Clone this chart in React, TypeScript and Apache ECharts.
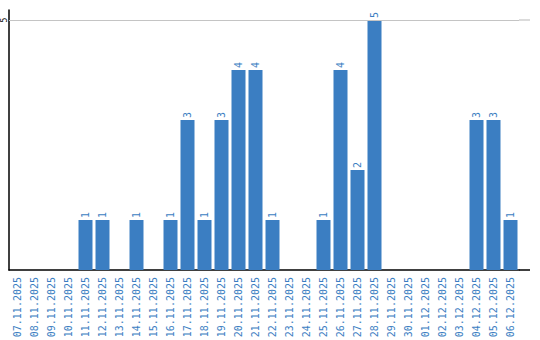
import React, { useEffect, useRef } from "react";
import * as echarts from "echarts";

const categories = [
  "07.11.2025", "08.11.2025", "09.11.2025", "10.11.2025", "11.11.2025",
  "12.11.2025", "13.11.2025", "14.11.2025", "15.11.2025", "16.11.2025",
  "17.11.2025", "18.11.2025", "19.11.2025", "20.11.2025", "21.11.2025",
  "22.11.2025", "23.11.2025", "24.11.2025", "25.11.2025", "26.11.2025",
  "27.11.2025", "28.11.2025", "29.11.2025", "30.11.2025", "01.12.2025",
  "02.12.2025", "03.12.2025", "04.12.2025", "05.12.2025", "06.12.2025",
];
const values = [0, 0, 0, 0, 1, 1, 0, 1, 0, 1, 3, 1, 3, 4, 4, 1, 0, 0, 1, 4, 2, 5, 0, 0, 0, 0, 0, 3, 3, 1];
const yTickLabels = [5];

const FONT = "DejaVu Sans Mono";
const BLUE = "#3b7ec2";

export default function App() {
  const ref = useRef<HTMLDivElement>(null);
  useEffect(() => {
    if (!ref.current) return;
    const chart = echarts.init(ref.current, null, { renderer: "svg" });
    chart.setOption({
      animation: false,
      grid: { left: 9, right: 21, top: 10, bottom: 70, containLabel: false, outerBoundsMode: "none" },
      xAxis: {
        type: "category",
        data: categories,
        axisLine: { show: true, lineStyle: { color: "#000", width: 1.5 } },
        axisTick: { show: false },
        axisLabel: {
          rotate: 90,
          interval: 0,
          margin: 7,
          color: BLUE,
          fontFamily: FONT,
          fontSize: 10,
        },
      },
      yAxis: {
        type: "value",
        min: 0,
        max: 5.2,
        interval: 5,
        axisLine: { show: true, lineStyle: { color: "#000", width: 1.5 } },
        axisTick: { show: false },
        splitLine: { show: false },
        axisLabel: {
          rotate: 90,
          margin: 1,
          color: "#000",
          fontFamily: FONT,
          fontSize: 8,
          lineHeight: 7,
          formatter: (v: number) => (yTickLabels.includes(v) ? String(v) : ""),
        },
      },
      series: [
        {
          type: "bar",
          data: values,
          barWidth: 14,
          itemStyle: { color: BLUE },
          label: {
            show: true,
            position: "top",
            rotate: 90,
            align: "left",
            verticalAlign: "middle",
            distance: 2,
            color: BLUE,
            fontFamily: FONT,
            fontSize: 10,
            formatter: (p: any) => (p.value ? String(p.value) : ""),
          },
          markLine: {
            silent: true,
            symbol: "none",
            label: { show: false },
            lineStyle: { color: "#c4c4c4", type: "solid", width: 1.2 },
            data: yTickLabels.map((v) => ({ yAxis: v })),
          },
        },
      ],
    });
    const gridRight = 540 - 21;
    const extEnd = 530;
    const y5 = chart.convertToPixel({ yAxisIndex: 0 }, 5) as number;
    const y0 = chart.convertToPixel({ yAxisIndex: 0 }, 0) as number;
    chart.setOption({
      graphic: [
        {
          type: "line",
          shape: { x1: gridRight, y1: y5, x2: extEnd, y2: y5 },
          style: { stroke: "#c4c4c4", lineWidth: 1.2 },
        },
        {
          type: "line",
          shape: { x1: gridRight, y1: y0, x2: extEnd, y2: y0 },
          style: { stroke: "#000", lineWidth: 1.5 },
        },
      ],
    });
    return () => chart.dispose();
  }, []);
  return <div ref={ref} style={{ width: 540, height: 340, position: "absolute", left: 0, top: 0 }} />;
}
